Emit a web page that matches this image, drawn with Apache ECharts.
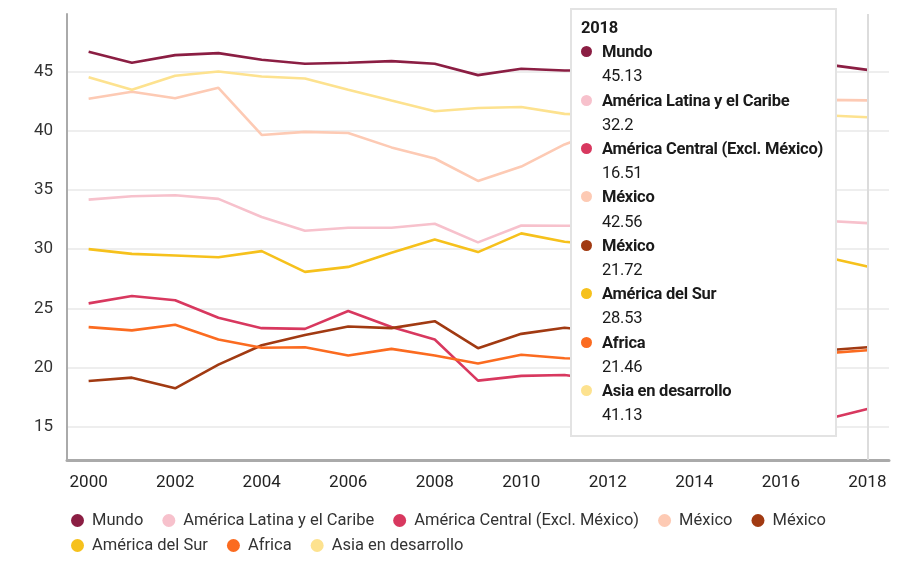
<!DOCTYPE html>
<html>
<head>
<meta charset="utf-8">
<script src="https://cdn.jsdelivr.net/npm/echarts@6/dist/echarts.min.js"></script>
<style>
html,body{margin:0;padding:0;background:#fff;}
#chart{width:902px;height:564px;}
</style>
</head>
<body>
<div id="chart"></div>
<script>
var years = ["2000","2001","2002","2003","2004","2005","2006","2007","2008","2009","2010","2011","2012","2013","2014","2015","2016","2017","2018"];

var seriesKeys = ["mundo","latam","central","mexico1","mexico2","sur","africa","asia"];
var seriesLabels = ["Mundo","América Latina y el Caribe","América Central (Excl. México)","México","México","América del Sur","Africa","Asia en desarrollo"];
var seriesColors = ["#8b1e43","#f7c1cc","#d8385f","#fdcab4","#a13a12","#f6c11c","#fb6b20","#fde28f"];

var mundo   = [46.67,45.74,46.38,46.55,45.99,45.65,45.74,45.87,45.65,44.69,45.23,45.08,45.10,45.30,45.40,45.50,45.60,45.62,45.13];
var latam   = [34.18,34.47,34.55,34.24,32.71,31.55,31.81,31.81,32.14,30.57,32.00,31.97,32.00,32.10,32.20,32.30,32.40,32.40,32.20];
var central = [25.42,26.05,25.68,24.21,23.33,23.27,24.78,23.42,22.37,18.90,19.30,19.38,18.90,18.30,17.60,17.00,16.30,15.60,16.51];
var mexico1 = [42.69,43.28,42.74,43.62,39.64,39.90,39.80,38.59,37.65,35.76,36.97,38.84,40.20,41.00,41.60,42.00,42.40,42.60,42.56];
var mexico2 = [18.87,19.15,18.25,20.25,21.89,22.75,23.47,23.33,23.92,21.64,22.85,23.36,23.00,22.60,22.20,21.90,21.60,21.45,21.72];
var sur     = [30.00,29.60,29.46,29.32,29.83,28.08,28.50,29.69,30.82,29.75,31.33,30.62,30.30,30.00,29.80,29.60,29.50,29.36,28.53];
var africa  = [23.42,23.14,23.62,22.37,21.67,21.72,21.02,21.58,21.02,20.34,21.08,20.79,20.70,20.80,20.90,21.00,21.10,21.20,21.46];
var asia    = [44.52,43.45,44.64,45.00,44.58,44.40,43.45,42.54,41.64,41.92,42.00,41.42,41.30,41.20,41.30,41.40,41.30,41.30,41.13];

var seriesData = [mundo, latam, central, mexico1, mexico2, sur, africa, asia];

var fontMain = "Roboto,'Liberation Sans',sans-serif";
var labelOf = {};
seriesKeys.forEach(function(k,i){ labelOf[k] = seriesLabels[i]; });

var chart = echarts.init(document.getElementById('chart'));

var series = seriesKeys.map(function(k,i){
  return {
    name: k,
    type: 'line',
    data: seriesData[i],
    showSymbol: false,
    symbol: 'none',
    lineStyle: {width: 2.6, color: seriesColors[i]},
    itemStyle: {color: seriesColors[i]},
    emphasis: {disabled: true},
    z: 2
  };
});

var legendCommon = {
  left: 66,
  icon: 'circle',
  itemWidth: 13,
  itemHeight: 13,
  itemGap: 19,
  formatter: function(n){ return labelOf[n]; },
  textStyle: {fontFamily: fontMain, fontSize: 16.5, color: '#333', padding: [0,0,0,3]}
};

var option = {
  animation: false,
  grid: {left: 67, right: 13, top: 14, bottom: 104},
  xAxis: {
    type: 'category',
    data: years,
    boundaryGap: true,
    axisLine: {lineStyle: {color: '#aaaaaa', width: 3}},
    axisTick: {show: false},
    axisLabel: {interval: 1, color: '#222', fontFamily: fontMain, fontSize: 17, margin: 14},
    splitLine: {show: false}
  },
  yAxis: {
    type: 'value',
    min: 12.2,
    max: 49.85,
    splitNumber: 8,
    axisLine: {show: true, lineStyle: {color: '#aaaaaa', width: 2}},
    axisTick: {show: false},
    axisLabel: {color: '#333', fontFamily: fontMain, fontSize: 17, margin: 14, showMinLabel: false, showMaxLabel: false},
    splitLine: {show: true, showMinLine: false, showMaxLine: false, lineStyle: {color: '#e8e8e8', width: 1.5}}
  },
  legend: [
    Object.assign({}, legendCommon, {top: 507, data: seriesKeys.slice(0,5)}),
    Object.assign({}, legendCommon, {top: 532, data: seriesKeys.slice(5)})
  ],
  tooltip: {
    trigger: 'axis',
    alwaysShowContent: true,
    transitionDuration: 0,
    showDelay: 0,
    position: function(){ return [570, 8]; },
    backgroundColor: '#fff',
    borderColor: '#e3e3e3',
    borderWidth: 2,
    borderRadius: 0,
    padding: [6, 12, 8, 9],
    extraCssText: 'box-shadow:none;',
    axisPointer: {type: 'line', lineStyle: {color: '#dcdcdc', width: 2, type: 'solid'}},
    formatter: function(params){
      var h = '<div style="font-family:Roboto,sans-serif;font-size:16.5px;letter-spacing:-0.25px;line-height:24.2px;color:#1a1a1a;">';
      h += '<div style="font-weight:bold;">' + params[0].axisValue + '</div>';
      params.forEach(function(p){
        var c = seriesColors[p.seriesIndex];
        h += '<div style="font-weight:bold;white-space:nowrap;"><span style="display:inline-block;width:11px;height:11px;border-radius:50%;background:' + c + ';margin-right:10px;vertical-align:0px;"></span>' + labelOf[p.seriesName] + '</div>';
        h += '<div style="padding-left:21px;">' + p.value + '</div>';
      });
      h += '</div>';
      return h;
    }
  },
  series: series
};

chart.setOption(option);
chart.dispatchAction({type: 'showTip', seriesIndex: 0, dataIndex: 18});
</script>
</body>
</html>
